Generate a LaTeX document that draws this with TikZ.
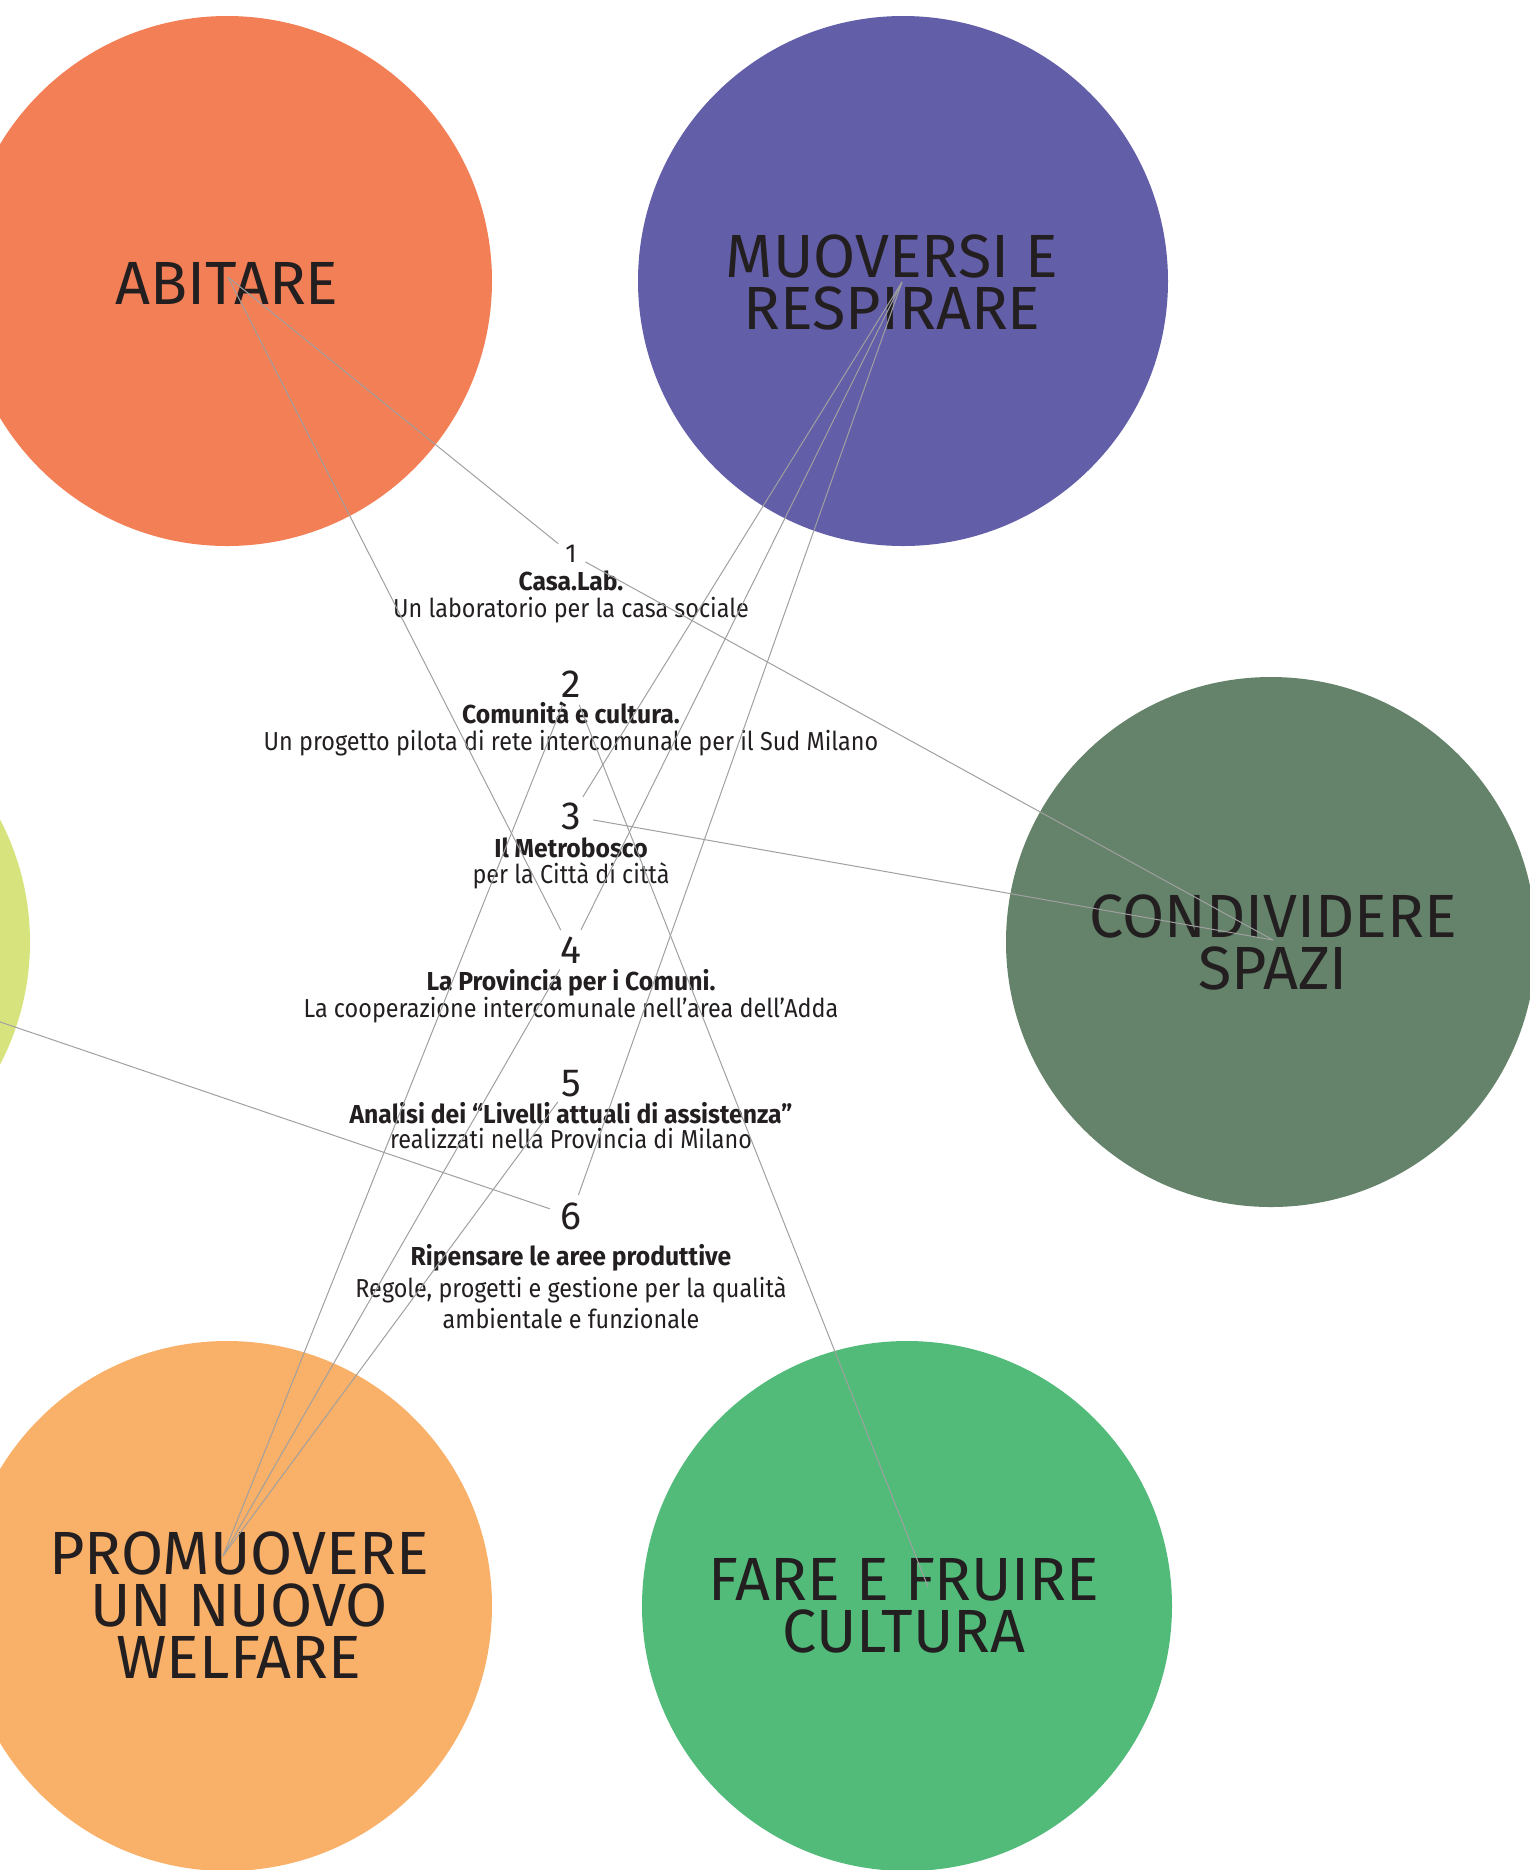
\documentclass[tikz,border=0pt]{standalone}
\usepackage{fontspec}
\setmainfont{Fira Sans}
\newfontfamily\subfont[FakeStretch=0.9]{Fira Sans}
\newfontfamily\ttlfont[FakeStretch=0.95]{Fira Sans}
\usepackage{xcolor}
\usepackage{tikz}
\usetikzlibrary{positioning}

\definecolor{abitareC}{RGB}{243,127,86}
\definecolor{muoversiC}{RGB}{99,94,168}
\definecolor{condividereC}{RGB}{100,131,106}
\definecolor{limeC}{RGB}{215,228,125}
\definecolor{promuovereC}{RGB}{249,176,104}
\definecolor{fareC}{RGB}{82,187,122}
\definecolor{ink}{RGB}{35,31,32}
\definecolor{linkgray}{RGB}{160,160,160}

\tikzset{
  theme/.style={circle, minimum size=265pt, inner sep=0pt},
  biglabel/.style={text=ink, align=center, inner sep=0pt,
    font=\fontsize{30.5}{26}\selectfont},
  num/.style={circle, minimum size=22pt, inner sep=0pt, text=ink,
    font=\fontsize{19.6}{20}\selectfont},
  ttl/.style={anchor=base, inner sep=0pt, text=ink,
    font=\ttlfont\fontsize{13}{14}\selectfont\bfseries},
  sub/.style={anchor=base, inner sep=0pt, text=ink,
    font=\subfont\fontsize{13}{14}\selectfont},
  link/.style={draw=linkgray, line width=0.5pt}
}

\begin{document}
\begin{tikzpicture}[x=0.5pt, y=-0.5pt]
  \useasboundingbox (0,0) rectangle (1530,1870);
  \clip (0,0) rectangle (1530,1870);

  % themes
  \node[theme, fill=abitareC] (abitare) at (227,281) {};
  \node[theme, fill=muoversiC] (muoversi) at (903,281) {};
  \node[theme, fill=condividereC] (condividere) at (1271,942) {};
  \node[theme, fill=limeC] (lime) at (-235,942) {};
  \node[theme, fill=promuovereC] (promuovere) at (227,1606) {};
  \node[theme, fill=fareC] (fare) at (907,1606) {};

  \node[biglabel] (labA) at (227,283) {ABITARE};
  \node[biglabel] (labM) at (892,282) {MUOVERSI E\\RESPIRARE};
  \node[biglabel] (labC) at (1273,942) {CONDIVIDERE\\SPAZI};
  \node[biglabel] (labP) at (239,1605) {PROMUOVERE\\UN NUOVO\\WELFARE};
  \node[biglabel] (labF) at (904,1606) {FARE E FRUIRE\\CULTURA};

  % projects
  \node[num, minimum size=16pt, font=\fontsize{13}{14}\selectfont] (n1) at (571,554) {1};
  \node[ttl] (t1) at (571,590) {Casa.Lab.};
  \node[sub] (s1) at (571,617) {Un laboratorio per la casa sociale};

  \node[num] (n2) at (571,684) {2};
  \node[ttl] (t2) at (571,723) {Comunità e cultura.};
  \node[sub] (s2) at (571,750) {Un progetto pilota di rete intercomunale per il Sud Milano};

  \node[num] (n3) at (571,816) {3};
  \node[ttl] (t3) at (571,857) {Il Metrobosco};
  \node[sub] (s3) at (571,883) {per la Città di città};

  \node[num] (n4) at (571,950) {4};
  \node[ttl] (t4) at (571,990) {La Provincia per i Comuni.};
  \node[sub] (s4) at (571,1017) {La cooperazione intercomunale nell’area dell’Adda};

  \node[num] (n5) at (571,1084) {5};
  \node[ttl] (t5) at (571,1123) {Analisi dei “Livelli attuali di assistenza”};
  \node[sub] (s5) at (571,1148) {realizzati nella Provincia di Milano};

  \node[num] (n6) at (571,1216) {6};
  \node[ttl] (t6) at (571,1265) {Ripensare le aree produttive};
  \node[sub] (s6) at (571,1297) {Regole, progetti e gestione per la qualità};
  \node[sub] (s6b) at (571,1328) {ambientale e funzionale};

  % hubs
  \coordinate (hubA) at (228,277);
  \coordinate (hubM) at (902,282);
  \coordinate (hubC) at (1273,940);
  \coordinate (hubY) at (-235,942);
  \coordinate (hubP) at (223,1556);
  \coordinate (hubF) at (928,1587);

  % links
  \draw[link] (hubA) -- (n1);
  \draw[link] (hubA) -- (n4);
  \draw[link] (hubC) -- (n1);
  \draw[link] (hubC) -- (n3);
  \draw[link] (hubM) -- (n3);
  \draw[link] (hubM) -- (n4);
  \draw[link] (hubM) -- (n6);
  \draw[link] (hubP) -- (n2);
  \draw[link] (hubP) -- (n4);
  \draw[link] (hubP) -- (n5);
  \draw[link] (hubF) -- (n2);
  \draw[link] (hubY) -- (n6);
\end{tikzpicture}
\end{document}
